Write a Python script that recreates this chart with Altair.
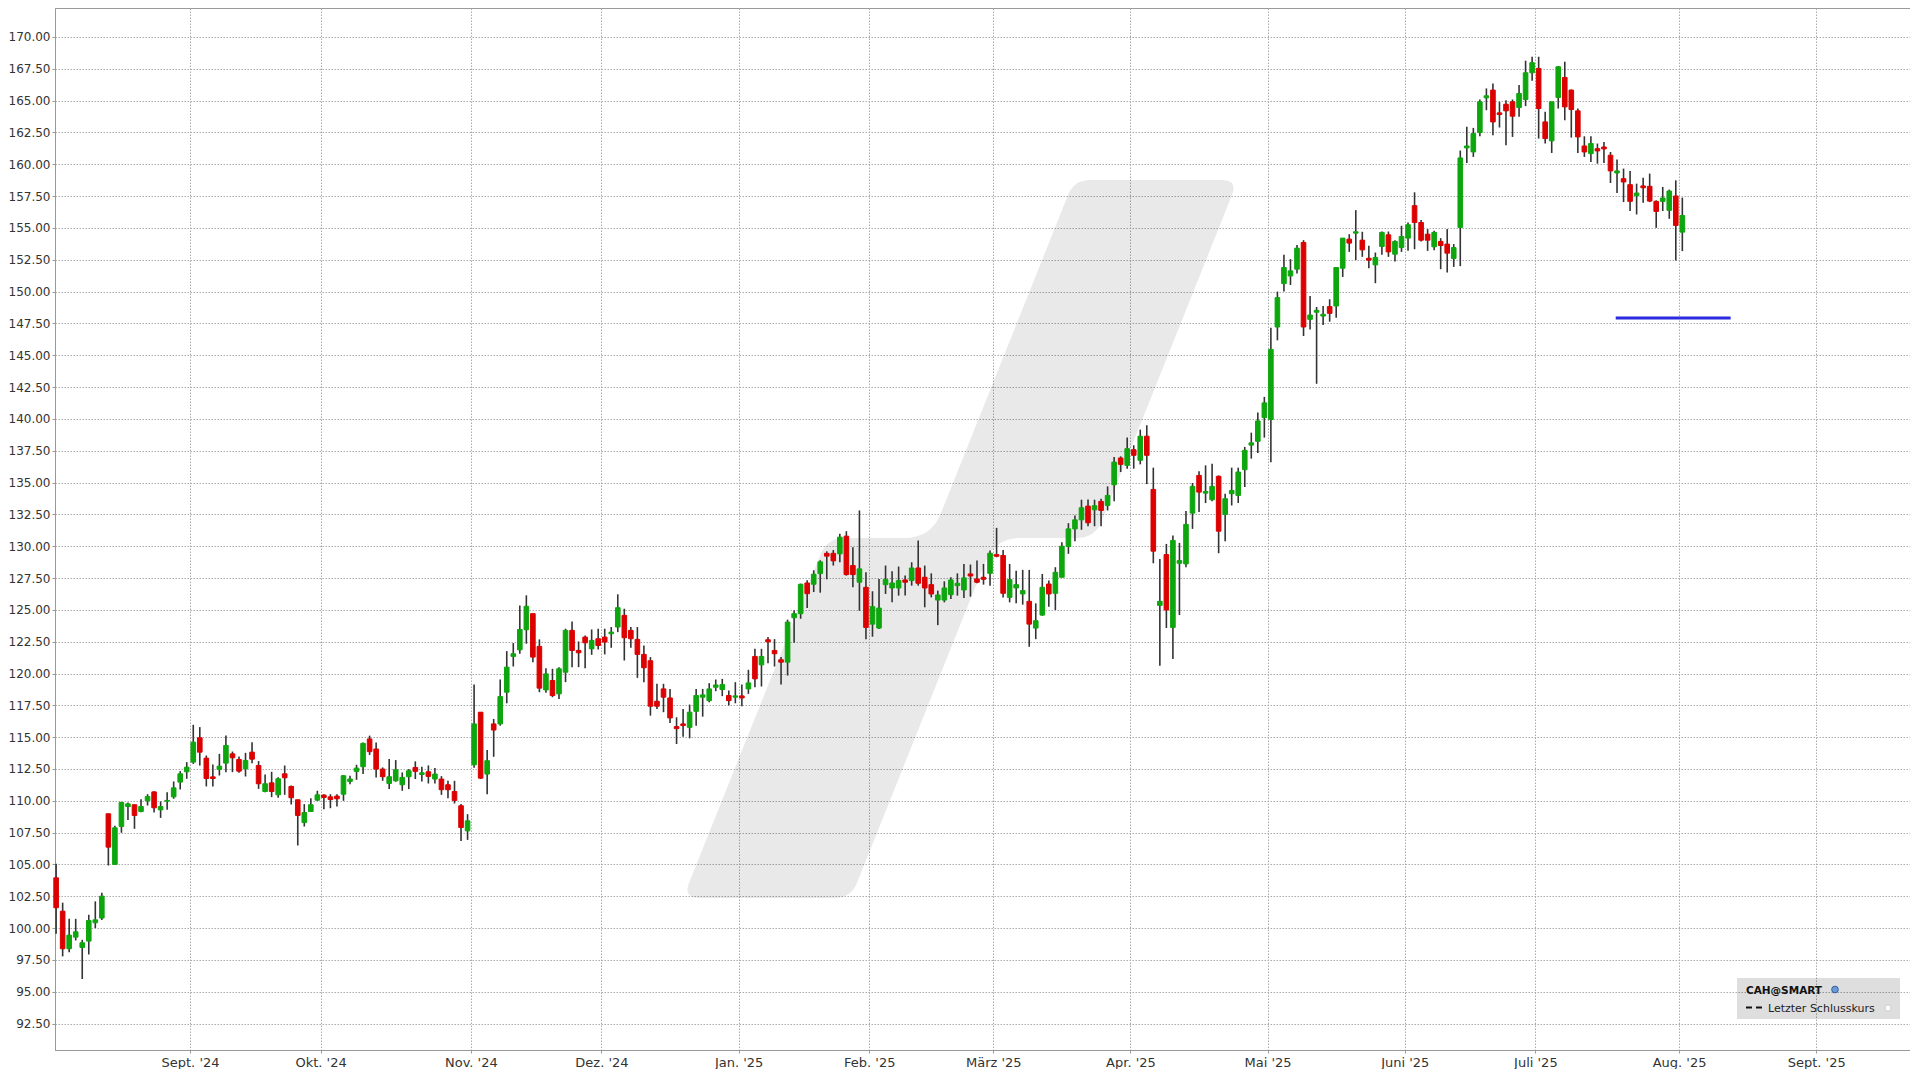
import json
import math
import pandas as pd
import altair as alt

# ---------------- data ----------------
open_ = [103.95, 101.33, 98.38, 99.29, 98.48, 98.98, 100.42, 100.79, 108.98, 105.0,
         107.98, 109.55, 109.69, 109.16, 110.0, 110.7, 109.29, 109.97, 110.31, 111.47,
         112.28, 113.04, 114.95, 113.35, 111.88, 112.46, 112.96, 113.69, 113.25, 112.51,
         113.82, 112.77, 110.73, 111.41, 110.47, 112.12, 111.13, 110.08, 108.29, 109.16,
         110.05, 110.45, 110.31, 110.37, 110.52, 111.52, 112.31, 112.68, 114.86, 114.07,
         112.49, 111.36, 111.57, 111.26, 111.89, 112.62, 112.07, 112.28, 111.71, 111.71,
         111.26, 110.73, 109.61, 107.64, 112.83, 116.96, 112.1, 116.04, 116.04, 118.53,
         121.34, 121.86, 123.44, 124.7, 122.13, 118.71, 119.45, 118.4, 120.1, 123.39,
         121.81, 122.86, 121.94, 122.73, 122.86, 123.12, 123.65, 124.57, 123.39, 122.68,
         121.5, 121.0, 117.82, 118.79, 118.08, 115.83, 116.04, 115.77, 117.03, 118.14,
         117.87, 118.92, 118.74, 118.27, 118.14, 118.24, 118.79, 121.34, 120.68, 122.65,
         121.81, 121.08, 120.89, 124.38, 124.7, 127.11, 127.01, 127.85, 129.44, 129.44,
         129.4, 130.79, 128.48, 127.17, 126.77, 123.88, 123.57, 126.98, 126.72, 126.72,
         127.35, 127.3, 128.29, 127.56, 126.98, 125.77, 125.77, 126.19, 126.9, 126.56,
         127.82, 127.43, 127.56, 127.87, 129.34, 129.27, 125.98, 126.72, 126.25, 125.67,
         123.57, 124.59, 127.03, 126.3, 127.56, 129.97, 131.36, 132.07, 133.15, 132.86,
         133.52, 133.2, 134.83, 136.93, 136.35, 137.58, 136.75, 138.64, 134.46, 125.35,
         129.34, 123.62, 128.66, 128.61, 132.6, 135.56, 134.17, 133.65, 135.49, 132.49,
         134.12, 133.99, 136.01, 137.94, 138.24, 140.1, 139.95, 147.22, 150.63, 151.23,
         151.76, 153.86, 147.82, 148.38, 148.08, 148.82, 148.87, 151.84, 154.12, 154.59,
         154.04, 152.62, 152.1, 153.54, 154.46, 152.94, 153.46, 154.2, 156.75, 155.43,
         154.51, 153.52, 153.94, 153.73, 152.6, 155.04, 161.29, 160.97, 162.49, 165.22,
         165.83, 164.04, 164.72, 164.91, 164.46, 165.09, 167.19, 167.53, 163.33, 161.84,
         165.25, 166.82, 165.83, 164.2, 161.44, 160.84, 161.23, 161.36, 160.71, 159.32,
         158.87, 158.4, 157.53, 158.3, 158.27, 157.09, 157.09, 156.38, 157.51, 154.67]

high = [105.05, 102.0, 100.73, 100.73, 99.08, 101.05, 102.1, 102.77, 109.0, 108.04,
        109.92, 109.87, 109.7, 110.13, 110.52, 110.76, 109.95, 110.68, 111.52, 112.33,
        113.04, 115.97, 115.79, 113.56, 112.85, 113.69, 115.13, 113.87, 113.48, 113.77,
        114.6, 113.12, 112.07, 112.28, 111.86, 112.77, 111.2, 110.08, 109.74, 110.21,
        110.79, 110.52, 110.52, 110.52, 112.02, 111.97, 112.83, 114.59, 115.12, 114.59,
        112.62, 113.28, 113.2, 112.23, 112.49, 113.1, 112.68, 112.78, 112.57, 111.94,
        111.57, 111.57, 109.74, 108.95, 119.13, 116.96, 113.99, 116.43, 119.53, 121.76,
        122.39, 125.35, 126.14, 124.7, 122.68, 120.42, 120.37, 120.5, 123.52, 124.09,
        122.52, 122.99, 123.46, 123.52, 123.52, 123.65, 126.22, 125.09, 123.65, 123.65,
        122.2, 121.29, 119.19, 119.19, 118.79, 116.56, 117.22, 117.56, 118.79, 118.79,
        119.24, 119.53, 119.58, 118.66, 119.32, 119.13, 120.29, 121.94, 121.94, 122.86,
        122.7, 121.29, 124.23, 124.96, 127.06, 127.32, 128.11, 128.9, 129.6, 129.7,
        130.97, 131.18, 129.92, 132.81, 127.95, 126.46, 127.43, 128.48, 128.03, 128.4,
        127.69, 128.74, 130.45, 128.48, 127.87, 126.51, 127.24, 127.56, 127.87, 128.61,
        128.56, 128.87, 128.61, 129.66, 131.44, 129.71, 128.61, 128.08, 128.14, 128.14,
        125.51, 127.82, 127.3, 128.35, 130.31, 131.81, 132.41, 133.65, 133.67, 133.65,
        133.73, 134.7, 137.0, 137.06, 138.53, 137.93, 139.16, 139.5, 136.17, 129.0,
        130.18, 130.84, 130.26, 132.76, 134.96, 135.88, 136.35, 136.48, 135.56, 134.12,
        136.17, 136.17, 137.8, 138.92, 140.5, 141.73, 147.17, 150.0, 152.89, 152.55,
        153.67, 154.04, 149.66, 148.79, 148.87, 149.4, 151.89, 154.2, 154.51, 156.4,
        154.7, 153.6, 153.07, 154.72, 154.72, 154.04, 155.17, 155.43, 157.8, 155.62,
        154.91, 154.78, 154.2, 154.91, 153.73, 161.08, 162.94, 162.86, 165.09, 165.96,
        166.35, 164.91, 165.04, 165.09, 166.22, 168.14, 168.45, 168.45, 164.12, 164.91,
        167.72, 168.06, 165.88, 164.38, 162.2, 162.2, 161.63, 161.76, 160.97, 160.37,
        159.66, 159.48, 158.48, 158.95, 159.27, 157.17, 158.22, 158.01, 158.74, 157.38]

low = [99.55, 97.78, 98.1, 99.03, 96.0, 97.93, 100.0, 100.63, 104.92, 105.0,
       107.49, 108.5, 107.8, 109.1, 109.63, 109.08, 108.66, 109.29, 110.16, 110.89,
       111.73, 112.9, 112.77, 111.13, 111.13, 111.99, 112.25, 112.25, 112.2, 111.91,
       112.96, 110.94, 110.68, 110.29, 110.24, 110.47, 109.71, 106.49, 107.98, 109.16,
       110.0, 109.34, 109.42, 109.55, 110.0, 111.31, 111.65, 112.1, 113.6, 111.84,
       111.57, 110.92, 111.5, 110.79, 110.92, 111.71, 111.52, 111.36, 111.36, 110.47,
       110.21, 109.79, 106.85, 106.93, 112.6, 111.71, 110.52, 113.46, 115.9, 117.66,
       120.55, 121.55, 122.34, 120.89, 118.53, 118.48, 118.14, 118.0, 119.32, 120.5,
       120.5, 120.42, 121.47, 121.89, 121.5, 122.02, 123.25, 121.02, 122.02, 119.66,
       119.32, 116.69, 117.22, 116.96, 116.12, 114.46, 115.04, 114.91, 115.9, 116.61,
       117.74, 118.61, 118.22, 117.48, 117.66, 117.43, 118.4, 118.92, 118.98, 120.81,
       120.55, 119.13, 119.84, 122.41, 124.3, 125.14, 126.4, 126.35, 127.4, 128.48,
       128.74, 127.69, 126.77, 124.93, 122.7, 122.89, 123.5, 126.25, 125.59, 126.12,
       126.12, 126.9, 126.9, 125.2, 125.98, 123.8, 125.59, 125.85, 126.12, 125.93,
       126.04, 127.09, 126.98, 126.9, 129.13, 125.98, 125.59, 125.51, 125.41, 122.1,
       122.7, 124.54, 125.25, 124.99, 127.56, 129.4, 130.39, 131.29, 131.57, 131.57,
       131.57, 132.81, 133.54, 135.83, 136.09, 136.09, 136.43, 134.88, 128.66, 120.6,
       123.57, 121.13, 124.59, 128.35, 131.36, 132.68, 133.39, 133.54, 129.45, 130.39,
       133.2, 133.39, 134.65, 136.88, 137.32, 138.53, 136.6, 146.17, 150.0, 150.52,
       151.42, 146.51, 147.03, 142.76, 147.38, 147.64, 147.95, 151.15, 153.12, 152.47,
       152.73, 151.84, 150.66, 152.89, 152.73, 152.36, 153.12, 153.2, 153.33, 153.94,
       153.2, 153.25, 151.76, 151.5, 151.94, 152.0, 160.1, 160.58, 162.2, 164.25,
       162.28, 162.89, 161.5, 162.15, 163.73, 164.57, 166.56, 162.02, 161.63, 160.89,
       164.38, 163.46, 162.1, 160.89, 160.58, 160.18, 160.05, 160.1, 158.53, 157.74,
       157.03, 156.33, 156.06, 156.98, 157.03, 155.01, 156.33, 155.72, 152.44, 153.18]

close = [101.6, 98.38, 99.45, 99.71, 98.85, 100.6, 100.65, 102.51, 106.36, 107.88,
         109.87, 109.76, 108.85, 109.55, 110.34, 109.45, 109.55, 110.03, 111.02, 112.12,
         112.64, 114.61, 113.82, 111.75, 111.75, 112.72, 114.35, 113.38, 112.33, 113.17,
         113.27, 111.34, 111.34, 110.73, 111.73, 111.81, 110.24, 108.85, 109.08, 109.69,
         110.47, 110.26, 110.1, 110.16, 111.97, 111.71, 112.57, 114.51, 113.86, 112.49,
         111.89, 111.89, 112.44, 111.84, 112.36, 112.31, 112.2, 111.92, 112.1, 110.87,
         110.87, 110.03, 107.9, 108.43, 116.04, 111.78, 113.15, 115.56, 118.19, 120.5,
         121.55, 123.46, 125.28, 121.29, 118.85, 119.97, 118.27, 120.37, 123.39, 121.81,
         121.63, 122.41, 122.6, 122.2, 122.47, 123.25, 125.17, 122.81, 122.73, 121.5,
         120.45, 117.43, 117.43, 118.14, 116.51, 115.67, 115.91, 116.96, 118.27, 118.32,
         118.79, 119.1, 119.13, 117.87, 118.24, 118.08, 119.26, 119.58, 121.34, 122.49,
         121.55, 120.89, 124.04, 124.7, 127.01, 126.27, 127.8, 128.77, 129.22, 128.85,
         130.71, 127.77, 127.77, 128.22, 123.62, 125.25, 125.14, 127.38, 127.11, 127.3,
         127.17, 128.29, 127.09, 126.72, 126.25, 126.17, 126.72, 127.35, 127.09, 127.51,
         127.66, 127.17, 127.4, 129.45, 129.21, 126.3, 127.38, 126.98, 126.51, 123.88,
         124.15, 126.77, 126.25, 127.95, 130.0, 131.36, 132.07, 133.02, 131.84, 133.18,
         132.81, 133.99, 136.61, 136.43, 137.66, 137.14, 138.64, 137.14, 129.61, 125.67,
         124.99, 130.45, 128.87, 131.71, 134.7, 134.25, 134.3, 134.7, 131.18, 133.73,
         134.38, 135.83, 137.53, 138.12, 139.84, 141.26, 145.46, 149.53, 151.89, 151.63,
         153.41, 147.22, 148.16, 148.53, 148.22, 148.29, 151.89, 154.2, 153.81, 154.7,
         153.28, 152.47, 152.68, 154.65, 153.12, 153.94, 154.33, 155.25, 155.43, 154.04,
         154.04, 154.65, 153.62, 153.02, 153.46, 160.5, 161.44, 162.41, 164.91, 165.38,
         163.33, 163.91, 164.2, 163.78, 165.56, 167.19, 167.98, 164.38, 162.02, 164.91,
         167.66, 164.51, 164.3, 162.15, 160.97, 161.63, 161.05, 161.21, 159.48, 159.48,
         158.61, 157.09, 157.74, 158.16, 157.11, 156.3, 157.35, 157.9, 155.2, 155.98]

# x axis: trading-day index, months labelled at their boundaries
month_labels = ["Sept. '24", "Okt. '24", "Nov. '24", "Dez. '24", "Jan. '25", "Feb. '25",
                "März '25", "Apr. '25", "Mai '25", "Juni '25", "Juli '25", "Aug. '25", "Sept. '25"]
# trading days per month, Aug '24 (from Aug 2) to Aug '25
month_trading_days = [21, 20, 23, 20, 21, 20, 19, 21, 21, 21, 20, 22, 21]
price_ticks = [92.5, 95.0, 97.5, 100.0, 102.5, 105.0, 107.5, 110.0, 112.5, 115.0, 117.5,
               120.0, 122.5, 125.0, 127.5, 130.0, 132.5, 135.0, 137.5, 140.0, 142.5, 145.0,
               147.5, 150.0, 152.5, 155.0, 157.5, 160.0, 162.5, 165.0, 167.5, 170.0]

# blue horizontal level
blue_level = [147.93]
blue_from = [238.8]
blue_to = [256.4]

# ---------------- build tables ----------------
n = len(close)
df = pd.DataFrame({"i": list(range(n)), "open": open_, "high": high, "low": low, "close": close})
df["dir"] = ["up" if c >= o else "down" for o, c in zip(open_, close)]

bounds = []
acc = 0
for d in month_trading_days:
    acc += d
    bounds.append(acc - 0.5)

label_expr = "{}[indexof({}, datum.value)]".format(
    json.dumps(month_labels, ensure_ascii=False), json.dumps(bounds))

X_DOM = [-0.171, 283.86]
Y_DOM = [90.425, 172.278]
W, H = 1855, 1042
FONT = "DejaVu Sans"
GRID = "#ababab"

xscale = alt.Scale(domain=X_DOM, nice=False, zero=False, padding=0)
yscale = alt.Scale(domain=Y_DOM, nice=False, zero=False, padding=0)

xaxis = alt.Axis(values=bounds, labelExpr=label_expr, grid=True, gridDash=[1.5, 1.5],
                 gridColor=GRID, gridWidth=1, tickSize=3, tickColor="#999",
                 domainColor="#999", labelFont=FONT, labelFontSize=13, labelColor="#333",
                 labelPadding=3, labelFlush=False, title=None)
yaxis = alt.Axis(values=price_ticks, format=".2f", grid=True, gridDash=[1.5, 1.5],
                 gridColor=GRID, gridWidth=1, tickSize=3, tickColor="#999",
                 domainColor="#999", labelFont=FONT, labelFontSize=12, labelColor="#333",
                 labelPadding=2, title=None)

base = alt.Chart(df)

# watermark logo (decorative symbol, drawn as a custom path)
def rounded_path(pts, radii, half):
    parts = []
    m = len(pts)
    for k in range(m):
        px, py = pts[k - 1]
        vx, vy = pts[k]
        nx, ny = pts[(k + 1) % m]
        d1 = math.hypot(vx - px, vy - py)
        d2 = math.hypot(nx - vx, ny - vy)
        r = radii[k]
        ax, ay = vx - (vx - px) / d1 * r, vy - (vy - py) / d1 * r
        bx, by = vx + (nx - vx) / d2 * r, vy + (ny - vy) / d2 * r
        f = lambda v: f"{v / half:.4f}"
        parts.append(("M" if k == 0 else "L") + f"{f(ax)},{f(ay)}")
        parts.append(f"Q{f(vx)},{f(vy)} {f(bx)},{f(by)}")
    parts.append("Z")
    return " ".join(parts)

logo_pts = [(-273, 359), (-129, -1), (-25, -1), (118, -359),
            (282, -359), (139, -1), (39, -1), (-105, 359)]
logo_r = [16, 18, 26, 16, 16, 18, 26, 16]
HALF = 359
logo_path = rounded_path(logo_pts, logo_r, HALF)
logo_df = pd.DataFrame({"i": [137.79], "p": [130.57]})
logo = alt.Chart(logo_df).mark_point(
    shape=logo_path, size=(2 * HALF) ** 2, filled=True, fill="#000000",
    fillOpacity=0.085, strokeWidth=0, strokeOpacity=0
).encode(x=alt.X("i:Q", scale=xscale, axis=xaxis), y=alt.Y("p:Q", scale=yscale, axis=yaxis))

wicks = base.mark_rule(color="#333333", strokeWidth=1.6).encode(
    x=alt.X("i:Q", scale=xscale, axis=xaxis),
    y=alt.Y("low:Q", scale=yscale, axis=yaxis),
    y2="high:Q")

color_scale = alt.Scale(domain=["up", "down"], range=["#0ea60e", "#dc0000"])
bodies = base.mark_bar(size=4.6, strokeWidth=1).encode(
    x=alt.X("i:Q", scale=xscale, axis=xaxis),
    y=alt.Y("open:Q", scale=yscale, axis=yaxis),
    y2="close:Q",
    color=alt.Color("dir:N", scale=color_scale, legend=None),
    stroke=alt.Stroke("dir:N", scale=color_scale, legend=None))

blue_df = pd.DataFrame({"a": blue_from, "b": blue_to, "p": blue_level})
blue = alt.Chart(blue_df).mark_rule(color="#2b2be0", strokeWidth=3).encode(
    x=alt.X("a:Q", scale=xscale, axis=xaxis), x2="b:Q",
    y=alt.Y("p:Q", scale=yscale, axis=yaxis))

# legend box (pixel placement inside plot area)
one = pd.DataFrame({"k": [0]})
leg_box = alt.Chart(one).mark_rect(fill="#000000", fillOpacity=0.13).encode(
    x=alt.value(1682), x2=alt.value(1845), y=alt.value(970), y2=alt.value(1011))
leg_title = alt.Chart(one).mark_text(align="left", baseline="alphabetic", font=FONT,
                                     fontSize=10.5, fontWeight="bold", color="#111").encode(
    x=alt.value(1691), y=alt.value(986), text=alt.value("CAH@SMART"))
leg_icon = alt.Chart(one).mark_point(shape="circle", filled=True, size=45, fill="#6b9bd6",
                                     stroke="#2f5f9e", strokeWidth=1, opacity=1).encode(
    x=alt.value(1780), y=alt.value(981.5))
leg_dash = alt.Chart(one).mark_rule(color="#111", strokeWidth=2, strokeDash=[6, 4]).encode(
    x=alt.value(1691), x2=alt.value(1708), y=alt.value(999.5))
leg_text = alt.Chart(one).mark_text(align="left", baseline="alphabetic", font=FONT,
                                    fontSize=11, color="#222").encode(
    x=alt.value(1713), y=alt.value(1004), text=alt.value("Letzter Schlusskurs"))
leg_sq = alt.Chart(one).mark_point(shape="square", filled=True, size=30, fill="#ffffff",
                                   stroke="#cfcfcf", strokeWidth=1, opacity=1).encode(
    x=alt.value(1833), y=alt.value(1000))

chart = alt.layer(logo, wicks, bodies, blue, leg_box, leg_title, leg_icon, leg_dash,
                  leg_text, leg_sq).properties(
    width=W, height=H, padding={"left": 0, "top": 0, "right": 0, "bottom": 0},
    background="#ffffff"
).configure_view(stroke="#9a9a9a", strokeWidth=1)

chart.save("out.html", embed_options={"renderer": "svg", "actions": False})
